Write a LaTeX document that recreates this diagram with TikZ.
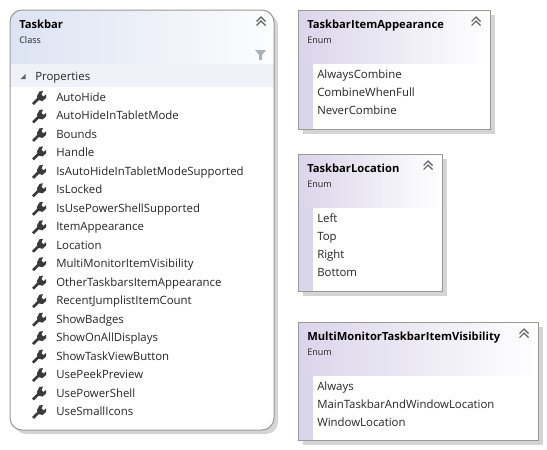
\documentclass[tikz,border=0pt]{standalone}
\usepackage{fontspec}
\setmainfont{Open Sans}
\definecolor{boxedge}{HTML}{9A9A94}
\definecolor{boxshadow}{HTML}{D4D4D4}
\definecolor{classhead}{HTML}{DCE3F2}
\definecolor{enumhead}{HTML}{DAD5EA}
\definecolor{propband}{HTML}{EFF2F8}
\definecolor{iconcol}{HTML}{3A3A3A}
\definecolor{filtercol}{HTML}{A9B4BC}
\tikzstyle{titletext}=[anchor=west,inner sep=0pt,text height=7pt,text depth=1pt,font=\fontsize{8.4pt}{11pt}\selectfont\bfseries,text=black]
\tikzstyle{kindtext}=[anchor=west,inner sep=0pt,text height=6pt,text depth=1pt,font=\fontsize{6.8pt}{8pt}\selectfont,text=black!85]
\tikzstyle{membertext}=[anchor=west,inner sep=0pt,text height=7pt,text depth=1pt,font=\fontsize{8.55pt}{11pt}\selectfont,text=black!85]
\newcommand{\drawchevron}[2]{
	\draw[iconcol!80,line width=0.8pt] (#1-4.5,#2+0.5) -- (#1,#2-4) -- (#1+4.5,#2+0.5);
	\draw[iconcol!80,line width=0.8pt] (#1-4.5,#2+4.5) -- (#1,#2) -- (#1+4.5,#2+4.5);
}
\newcommand{\drawwrench}[2]{
	\begin{scope}[shift={(#1,#2+0.5)}]
	\draw[iconcol,line width=2pt] (-6,6) -- (1,-1);
	\fill[iconcol] (0.5,-6.5) -- (4,-7) -- (2.5,-3.5) -- (4.5,-1.5) -- (7,-3.5) -- (7,0) -- (3.5,3) -- (-1,2) -- (-2,-2) -- cycle;
	\end{scope}
}
% #1 name, (#2,#3) top left, (#4,#5) bottom right, #6 title
\newcommand{\drawenumbox}[6]{
	\fill[boxshadow] (#2+5,#3+5) rectangle (#4+5,#5+5);
	\fill[white] (#2,#3) rectangle (#4,#5);
	\shade[left color=enumhead,right color=white] (#2,#3) rectangle (#4,#3+53);
	\fill[enumhead] (#2,#3+53) rectangle (#2+15,#5);
	\draw[boxedge,line width=0.75pt] (#2,#3) rectangle (#4,#5);
	\node[titletext] (#1title) at (#2+9,#3+14) {#6};
	\node[kindtext] (#1kind) at (#2+9,#3+30) {Enum};
	\drawchevron{#4-14}{#3+11}
}
\newcommand{\drawmembers}[4]{
	\foreach \label [count=\i from 0] in {#4} {
		\pgfmathsetmacro{\rowy}{#3+18.2*\i}
		\node[membertext] (#1\i) at (#2,\rowy) {\label};
	}
}
\begin{document}
\begin{tikzpicture}[x=0.75pt,y=-0.75pt]
	\useasboundingbox (0,0) rectangle (547,450);
	% class box
	\fill[boxshadow,rounded corners=9pt] (14,14) rectangle (278,434);
	\begin{scope}
	\clip[rounded corners=9pt] (10,10) rectangle (274,430);
	\fill[white] (10,10) rectangle (274,430);
	\shade[left color=classhead,right color=white!92!classhead] (10,10) rectangle (274,63);
	\fill[propband] (10,64) rectangle (274,87);
	\end{scope}
	\draw[boxedge,line width=0.75pt,rounded corners=9pt] (10,10) rectangle (274,430);
	\node[titletext] (classtitle) at (19,24) {Taskbar};
	\node[kindtext] (classkind) at (19,40) {Class};
	\drawchevron{261}{21}
	\fill[filtercol] (255,50) -- (266,50) -- (262,55) -- (262,60) -- (259,60) -- (259,55) -- cycle;
	\fill[iconcol!80] (20.5,79) -- (25.5,74) -- (25.5,79) -- cycle;
	\node[membertext] (propheader) at (35,76) {Properties};
	\foreach \label [count=\i from 0] in {AutoHide,AutoHideInTabletMode,Bounds,Handle,IsAutoHideInTabletModeSupported,IsLocked,IsUsePowerShellSupported,ItemAppearance,Location,MultiMonitorItemVisibility,OtherTaskbarsItemAppearance,RecentJumplistItemCount,ShowBadges,ShowOnAllDisplays,ShowTaskViewButton,UsePeekPreview,UsePowerShell,UseSmallIcons} {
		\pgfmathsetmacro{\rowy}{97.5+18.47*\i}
		\drawwrench{39}{\rowy}
		\node[membertext] (prop\i) at (56,\rowy) {\label};
	}
	% enum boxes
	\drawenumbox{appear}{298}{10}{490}{129}{TaskbarItemAppearance}
	\drawmembers{appear}{317}{74}{AlwaysCombine,CombineWhenFull,NeverCombine}
	\drawenumbox{loc}{298}{154}{442}{291}{TaskbarLocation}
	\drawmembers{loc}{317}{218}{Left,Top,Right,Bottom}
	\drawenumbox{multi}{298}{322}{538}{440}{MultiMonitorTaskbarItemVisibility}
	\drawmembers{multi}{317}{386}{Always,MainTaskbarAndWindowLocation,WindowLocation}
\end{tikzpicture}
\end{document}
